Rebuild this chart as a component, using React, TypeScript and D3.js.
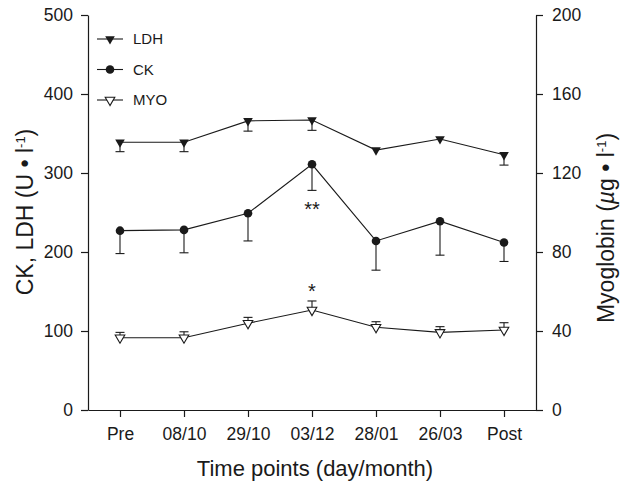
import React, { useEffect, useRef } from 'react'
import * as d3 from 'd3'

const categories = ['Pre', '08/10', '29/10', '03/12', '28/01', '26/03', 'Post']
const ldh = [339, 339, 366, 367, 329, 343, 323]
const ldhErr = [12, 12, 13, 13, 0, 0, 13]
const ck = [227, 228, 249, 311, 214, 239, 212]
const ckErr = [29, 29, 35, 33, 37, 43, 24]
const myo = [36.6, 36.6, 43.9, 50.6, 41.9, 39.3, 40.5]
const myoErr = [2.7, 3.0, 3.0, 4.6, 2.8, 2.9, 3.7]
const leftTicks = [0, 100, 200, 300, 400, 500]
const rightTicks = [0, 40, 80, 120, 160, 200]

const W = 627
const H = 485
const margin = { top: 15, right: 91, bottom: 75, left: 88 }
const FONT = "'Liberation Sans', Arial, sans-serif"
const INK = '#1a1a1a'

function App() {
  const axisRef = useRef<SVGGElement>(null)

  const x = d3.scaleLinear().domain([-0.5, categories.length - 0.5]).range([margin.left, W - margin.right])
  const yL = d3.scaleLinear().domain([0, 500]).range([H - margin.bottom, margin.top])
  const yR = d3.scaleLinear().domain([0, 200]).range([H - margin.bottom, margin.top])

  const triDown = d3.symbol(d3.symbolTriangle, 40)()
  const lineL = d3.line<number>().x((_, i) => x(i)).y((d) => yL(d))
  const lineR = d3.line<number>().x((_, i) => x(i)).y((d) => yR(d))

  useEffect(() => {
    const g = d3.select(axisRef.current)
    g.selectAll('*').remove()
    const left = g.append('g').attr('transform', `translate(${margin.left},0)`)
      .call(d3.axisLeft(yL).tickValues(leftTicks).tickSize(7).tickSizeOuter(0).tickPadding(8))
    const right = g.append('g').attr('transform', `translate(${W - margin.right},0)`)
      .call(d3.axisRight(yR).tickValues(rightTicks).tickSize(7).tickSizeOuter(0).tickPadding(9))
    const bottom = g.append('g').attr('transform', `translate(0,${H - margin.bottom})`)
      .call(d3.axisBottom(x).tickValues(d3.range(categories.length)).tickFormat((d) => categories[+d]).tickSize(7).tickSizeOuter(0).tickPadding(11))
    ;[left, right, bottom].forEach((a) => {
      a.selectAll('path, line').attr('stroke', INK).attr('stroke-width', 1.2)
      a.selectAll('text').attr('font-family', FONT).attr('font-size', 17.5).attr('fill', INK)
    })
  }, [])

  const legend = [
    { label: 'LDH', kind: 'ldh' },
    { label: 'CK', kind: 'ck' },
    { label: 'MYO', kind: 'myo' },
  ]
  const legendY = d3.scalePoint<string>().domain(legend.map((d) => d.label)).range([39, 100])

  const marker = (kind: string, cx: number, cy: number, key: string | number) => {
    if (kind === 'ck') return <circle key={key} cx={cx} cy={cy} r={4.3} fill={INK} />
    if (kind === 'ldh')
      return <path key={key} d={triDown!} transform={`translate(${cx},${cy}) rotate(180)`} fill={INK} />
    return (
      <path key={key} d={triDown!} transform={`translate(${cx},${cy}) rotate(180)`} fill="#fff" stroke={INK} strokeWidth={1.1} />
    )
  }

  // skip bars whose error is too small to show
  const errBar = (cx: number, y0: number, y1: number, key: string) =>
    y0 === y1 ? null : (
      <g key={key} stroke={INK} strokeWidth={1.1}>
        <line x1={cx} x2={cx} y1={y0} y2={y1} />
        <line x1={cx - 4.5} x2={cx + 4.5} y1={y1} y2={y1} />
      </g>
    )

  return (
    <div style={{ position: 'absolute', left: 0, top: 0 }}>
      <svg width={W} height={H} style={{ display: 'block', background: '#fff' }}>
        <g ref={axisRef} />

        {/* error bars */}
        {ck.map((v, i) => errBar(x(i), yL(v), yL(v - ckErr[i]), `ce${i}`))}
        {ldh.map((v, i) => errBar(x(i), yL(v), yL(v - ldhErr[i]), `le${i}`))}
        {myo.map((v, i) => errBar(x(i), yR(v), yR(v + myoErr[i]), `me${i}`))}

        {/* lines */}
        <path d={lineL(ldh)!} fill="none" stroke={INK} strokeWidth={1.1} />
        <path d={lineL(ck)!} fill="none" stroke={INK} strokeWidth={1.1} />
        <path d={lineR(myo)!} fill="none" stroke={INK} strokeWidth={1.1} />

        {/* markers */}
        {ldh.map((v, i) => marker('ldh', x(i), yL(v), `lm${i}`))}
        {ck.map((v, i) => marker('ck', x(i), yL(v), `cm${i}`))}
        {myo.map((v, i) => marker('myo', x(i), yR(v), `mm${i}`))}

        {/* significance */}
        <text x={x(3)} y={yL(ck[3] - ckErr[3]) + 26} textAnchor="middle" fontFamily={FONT} fontSize={20} fill={INK}>**</text>
        <text x={x(3)} y={yR(myo[3] + myoErr[3]) - 3} textAnchor="middle" fontFamily={FONT} fontSize={20} fill={INK}>*</text>

        {/* legend */}
        {legend.map((d) => (
          <g key={d.label}>
            <line x1={97} x2={123} y1={legendY(d.label)} y2={legendY(d.label)} stroke={INK} strokeWidth={1.1} />
            {marker(d.kind, 110, legendY(d.label)!, 'lg' + d.label)}
            <text x={133} y={legendY(d.label)} dy="0.35em" fontFamily={FONT} fontSize={15} fill={INK}>{d.label}</text>
          </g>
        ))}

        {/* axis titles */}
        <text x={315} y={476} textAnchor="middle" fontFamily={FONT} fontSize={22} fill={INK}>Time points (day/month)</text>
        <text transform="translate(33,212) rotate(-90)" textAnchor="middle" fontFamily={FONT} fontSize={23} fill={INK}>
          CK, LDH (U • l<tspan dy={-8} fontSize={13}>-1</tspan><tspan dy={8}>)</tspan>
        </text>
        <text transform="translate(614,228) rotate(-90)" textAnchor="middle" fontFamily={FONT} fontSize={23} fill={INK}>
          Myoglobin (<tspan fontStyle="italic">µ</tspan>g • l<tspan dy={-8} fontSize={13}>-1</tspan><tspan dy={8}>)</tspan>
        </text>
      </svg>
    </div>
  )
}

export default App
